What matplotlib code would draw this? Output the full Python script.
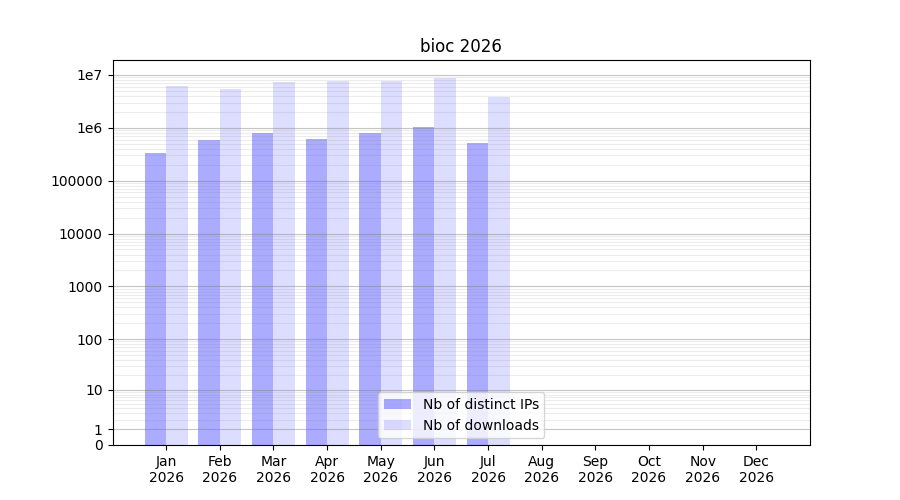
import numpy as np
import matplotlib
matplotlib.use("Agg")
import matplotlib.pyplot as plt
from matplotlib.ticker import FixedLocator, FuncFormatter

months = ["Jan", "Feb", "Mar", "Apr", "May", "Jun", "Jul", "Aug", "Sep", "Oct", "Nov", "Dec"]
year = "2026"
distinct_ips = [334000, 589000, 798000, 615000, 798000, 1040000, 517000]
downloads = [6200000, 5430000, 7370000, 7800000, 7800000, 8770000, 3830000]

fig, ax = plt.subplots(figsize=(9, 5), dpi=100)
ax.set_yscale('function', functions=(lambda x: np.log10(1 + np.clip(x, 0, None)),
                                     lambda y: 10 ** y - 1))

x = np.arange(1, len(distinct_ips) + 1)
w = 0.4
ax.bar(x, distinct_ips, width=-w, align='edge', color='blue', alpha=0.33, label='Nb of distinct IPs')
ax.bar(x, downloads, width=w, align='edge', color='blue', alpha=0.133, label='Nb of downloads')

ax.set_xlim(0, 13)
ax.set_xticks(np.arange(1, 13))
ax.set_xticklabels([f"{m}\n{year}" for m in months])

major = [0, 1, 10, 100, 1000, 10000, 100000, 1000000, 10000000]
minor = [m * 10 ** k for k in range(0, 8) for m in range(2, 10)]
ax.yaxis.set_major_locator(FixedLocator(major))
ax.yaxis.set_minor_locator(FixedLocator(minor))

def fmt(v, pos):
    if v >= 1e6:
        return f"1e{int(round(np.log10(v)))}"
    return f"{int(round(v))}"

ax.yaxis.set_major_formatter(FuncFormatter(fmt))
ax.tick_params(axis='y', which='minor', length=0)
ax.grid(True, axis='y', which='major', color='gray', alpha=0.45, linewidth=0.8)
ax.grid(True, axis='y', which='minor', color='gray', alpha=0.15, linewidth=0.8)
ax.set_ylim(0, 10 ** 7.283)

ax.set_title(f"bioc {year}")
ax.legend(loc='lower center')
fig.savefig("out.png", dpi=100)
